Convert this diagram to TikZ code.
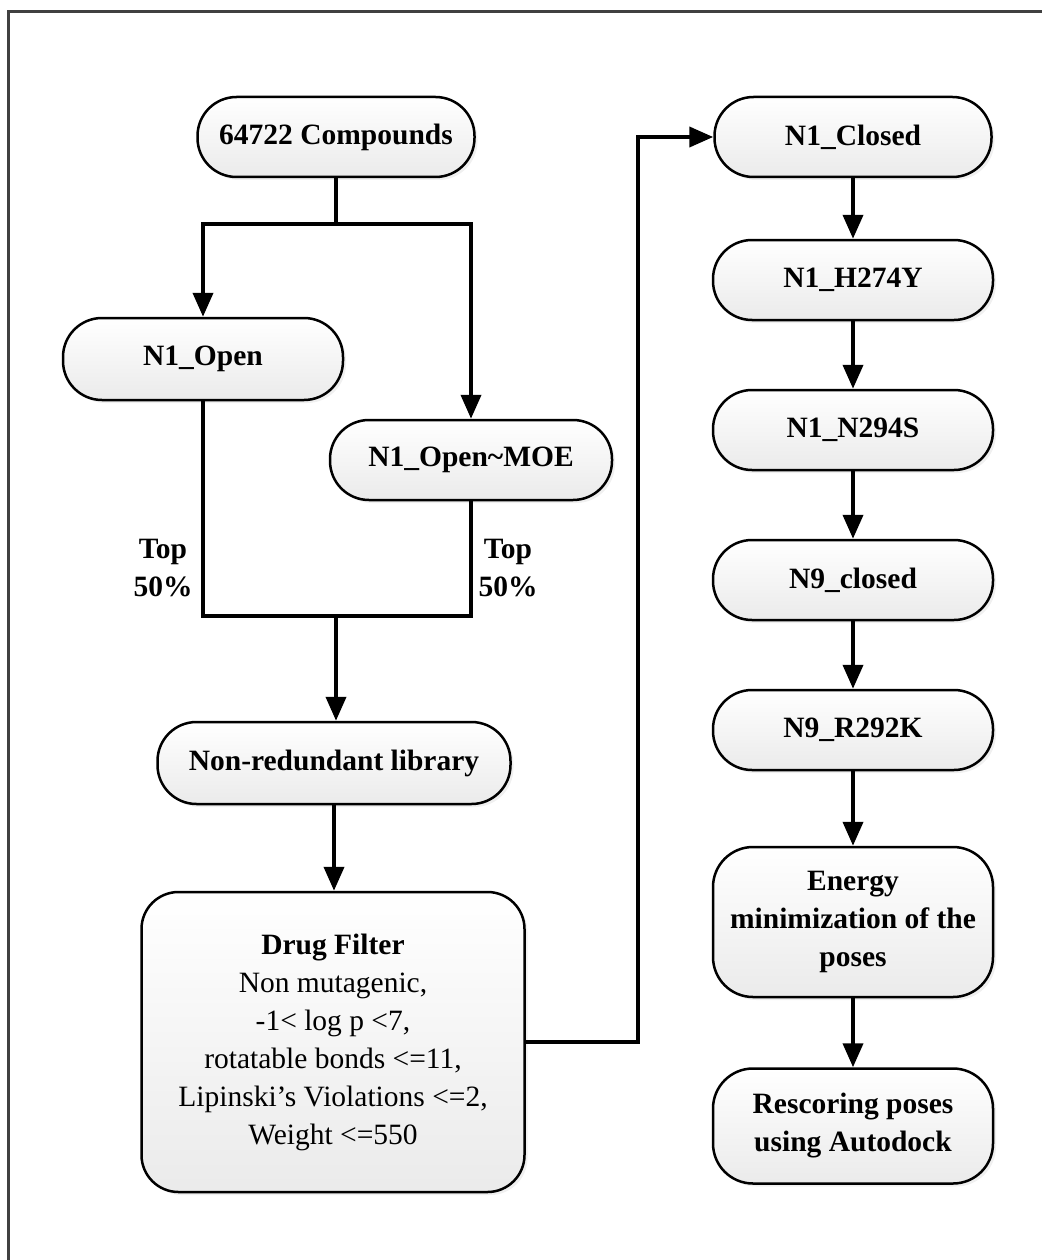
\documentclass[tikz,border=0pt]{standalone}
\usepackage{fontspec}
\setmainfont{Liberation Serif}
\usetikzlibrary{arrows.meta,shadows}
\begin{document}
\begin{tikzpicture}[x=1pt,y=1pt,
  font=\fontsize{29.5}{38}\selectfont,
  box/.style={draw, line width=2.5pt, top color=white, bottom color=black!8,
    align=center, inner sep=0pt, font=\fontsize{29.5}{38}\selectfont\bfseries,
    drop shadow={opacity=0.12, shadow xshift=3pt, shadow yshift=-3pt}},
  pill/.style={box, rounded corners=39pt, minimum width=280pt, minimum height=80pt},
  link/.style={line width=4pt, line join=miter},
  arrow/.style={link, -{Triangle[length=24pt,width=20pt]}},
  lbl/.style={align=center, font=\fontsize{29.5}{38}\selectfont\bfseries}]
\useasboundingbox (0,0) rectangle (1042,-1260);
\draw[line width=2.2pt, black!75] (8.5,-1260) -- (8.5,-11.5) -- (1042,-11.5);

% left column
\node[pill, minimum width=277pt] (c64) at (336,-137) {64722 Compounds};
\node[pill, minimum height=82pt] (open) at (203,-359) {N1\_Open};
\node[pill, minimum width=282pt] (moe) at (471,-460) {N1\_Open\textasciitilde MOE};
\node[pill, minimum width=353pt, minimum height=82pt] (nr) at (334,-763) {Non-redundant library};
\node[box, rounded corners=37pt, minimum width=383pt, minimum height=300pt] (df) at (333,-1042)
  {Drug Filter\\\mdseries Non mutagenic,\\\mdseries -1< log p <7,\\\mdseries rotatable bonds <=11,\\\mdseries Lipinski’s Violations <=2,\\\mdseries Weight <=550};

% right column
\node[pill, minimum width=277pt] (closed) at (853,-137) {N1\_Closed};
\node[pill] (h274) at (853,-280) {N1\_H274Y};
\node[pill] (n294) at (853,-430) {N1\_N294S};
\node[pill] (n9c) at (853,-580) {N9\_closed};
\node[pill] (r292) at (853,-730) {N9\_R292K};
\node[box, rounded corners=40pt, minimum width=280pt, minimum height=150pt] (energy) at (853,-922)
  {Energy\\minimization of the\\poses};
\node[box, rounded corners=40pt, minimum width=280pt, minimum height=115pt] (resc) at (853,-1126)
  {Rescoring poses\\using Autodock};

% labels
\node[lbl] (lt1) at (163,-568) {Top\\50\%};
\node[lbl] (lt2) at (508,-568) {Top\\50\%};

% connectors
\coordinate (j1) at (336,-224);
\coordinate (j2) at (336,-616);
\coordinate (k) at (638,-137);
\draw[link] (c64.south) -- (j1);
\draw[arrow] (j1) -| (open.north);
\draw[arrow] (j1) -| (moe.north);
\draw[link] (open.south) |- (j2) -| (moe.south);
\draw[arrow] (j2) -- (j2 |- nr.north);
\draw[arrow] (nr.south) -- (nr.south |- df.north);
\draw[arrow] (df.east) -| (k) -- (closed.west);
\draw[arrow] (closed) -- (h274);
\draw[arrow] (h274) -- (n294);
\draw[arrow] (n294) -- (n9c);
\draw[arrow] (n9c) -- (r292);
\draw[arrow] (r292) -- (energy);
\draw[arrow] (energy) -- (resc);
\end{tikzpicture}
\end{document}
